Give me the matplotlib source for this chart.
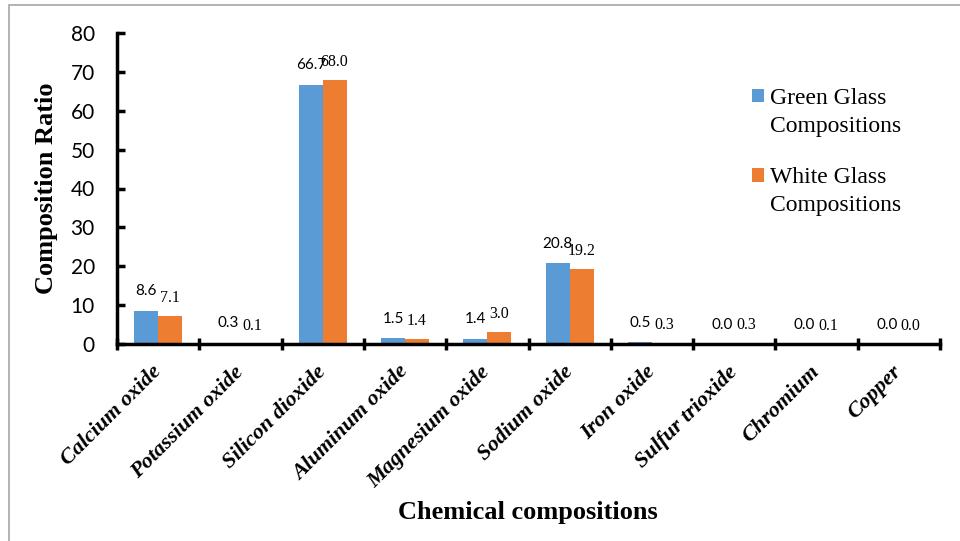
import matplotlib
matplotlib.use("Agg")
import matplotlib.pyplot as plt
import numpy as np
from matplotlib.patches import Rectangle

categories = ["Calcium oxide", "Potassium oxide", "Silicon dioxide", "Aluminum oxide",
              "Magnesium oxide", "Sodium oxide", "Iron oxide", "Sulfur trioxide",
              "Chromium", "Copper"]
green = [8.6, 0.3, 66.7, 1.5, 1.4, 20.8, 0.5, 0.0, 0.0, 0.0]
white = [7.1, 0.1, 68.0, 1.4, 3.0, 19.2, 0.3, 0.3, 0.1, 0.0]
series_names = ["Green Glass\nCompositions", "White Glass\nCompositions"]
yticks = [0, 10, 20, 30, 40, 50, 60, 70, 80]

BLUE = "#5B9BD5"
ORANGE = "#ED7D31"
SERIF = "Liberation Serif"
SANS = "Lato"

fig = plt.figure(figsize=(9.6, 5.41), dpi=100)
# outer gray frame
fig.patches.append(Rectangle((9/960, -0.05), 1.2, 1 - 5/541 + 0.05, transform=fig.transFigure,
                             fill=False, edgecolor="#A6A6A6", linewidth=1.2))

ax = fig.add_axes([117/960, 1 - 344/541, 823/960, 311/541])
x = np.arange(len(categories))
w = 0.29
b1 = ax.bar(x - w/2, green, w, color=BLUE, label=series_names[0], zorder=2)
b2 = ax.bar(x + w/2, white, w, color=ORANGE, label=series_names[1], zorder=2)

for xi, v in zip(x, green):
    ax.annotate(f"{v:.1f}", (xi - w/2, v), xytext=(0, 14), textcoords="offset points",
                ha="center", va="center", fontsize=11, fontfamily=SANS)
for xi, v in zip(x, white):
    ax.annotate(f"{v:.1f}", (xi + w/2, v), xytext=(0, 13), textcoords="offset points",
                ha="center", va="center", fontsize=11.5, fontfamily=SERIF)

ax.set_xlim(-0.5, len(categories) - 0.5)
ax.set_ylim(0, 80)
ax.set_yticks(yticks)
ax.set_yticklabels([str(t) for t in yticks], fontfamily=SANS, fontsize=15)
ax.set_xticks(x)
ax.set_xticklabels(categories, rotation=45, ha="right", va="center", rotation_mode="anchor",
                   fontfamily=SERIF, fontsize=16, fontweight="bold", fontstyle="italic")
ax.set_xticks(np.arange(-0.5, len(categories)), minor=True)
ax.tick_params(axis="x", which="major", length=0, pad=18)
ax.tick_params(axis="x", which="minor", direction="inout", length=8, width=2.5)
ax.tick_params(axis="y", direction="in", length=6, width=2.5, pad=16)

for s in ["top", "right"]:
    ax.spines[s].set_visible(False)
for s in ["left", "bottom"]:
    ax.spines[s].set_linewidth(2.5)
    ax.spines[s].set_color("black")

ax.set_ylabel("Composition Ratio", fontfamily=SERIF, fontsize=19, fontweight="bold")
ax.yaxis.set_label_coords(-0.072, 0.5)
fig.text(528/960, 1 - 513/541, "Chemical compositions", ha="center", va="center",
         fontfamily=SERIF, fontsize=19, fontweight="bold")

leg = ax.legend(loc="upper left", bbox_to_anchor=(752/960, 1 - 88/541),
                bbox_transform=fig.transFigure, frameon=False,
                prop={"family": SERIF, "size": 17}, handlelength=0.51, handleheight=0.51,
                handletextpad=0.25, labelspacing=1.27, borderpad=0, borderaxespad=0)
for t in leg.get_texts():
    t.set_linespacing(1.45)
for h in leg.legend_handles:
    h.set_y(h.get_y() + 12)

fig.savefig("out.png", dpi=100)
